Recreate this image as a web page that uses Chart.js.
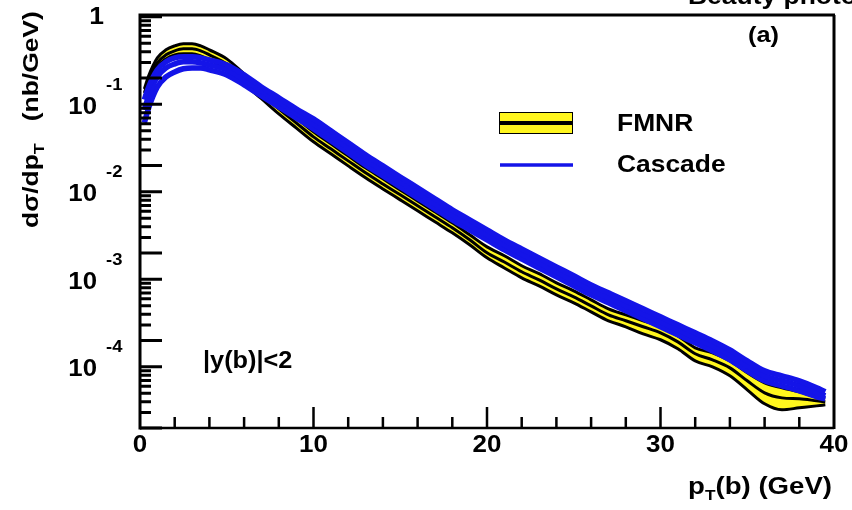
<!DOCTYPE html>
<html>
<head>
<meta charset="utf-8">
<script src="https://cdn.jsdelivr.net/npm/chart.js@4.4.0/dist/chart.umd.min.js"></script>
<style>
  body { margin: 0; background: #fff; }
  #myChart { display: block; background: #fff; }
</style>
</head>
<body>
<canvas id="myChart" width="852" height="510"></canvas>
<script>
// valores (pT en GeV, dsigma/dpT en nb/GeV)
const pT = [0.25, 0.5, 1, 1.5, 2, 2.5, 3, 3.5, 4, 5, 6, 7, 8, 9, 10, 11, 12, 13, 14, 15, 16, 17, 18, 19, 20,
  21, 22, 23, 24, 25, 26, 27, 28, 29, 30, 31, 32, 33, 34, 35, 36, 37, 38, 39, 39.5]

const fmnrCentral = [0.135, 0.191, 0.298, 0.368, 0.409, 0.431, 0.431, 0.409, 0.368, 0.290, 0.196, 0.132, 0.0888,
  0.0615, 0.0425, 0.0310, 0.0226, 0.0165, 0.0123, 0.00924, 0.00692, 0.00518, 0.00388, 0.00283, 0.00201,
  0.00158, 0.00122, 9.87e-4, 7.79e-4, 6.31e-4, 4.98e-4, 3.93e-4, 3.36e-4, 2.87e-4, 2.45e-4, 1.93e-4,
  1.41e-4, 1.20e-4, 9.74e-5, 6.92e-5, 5.05e-5, 4.42e-5, 4.31e-5, 4.09e-5, 3.98e-5]

const fmnrUpper = [0.150, 0.212, 0.340, 0.420, 0.466, 0.492, 0.492, 0.466, 0.420, 0.331, 0.223, 0.150, 0.101,
  0.0701, 0.0485, 0.0354, 0.0258, 0.0188, 0.0141, 0.0105, 0.00789, 0.00591, 0.00442, 0.00323, 0.00235,
  0.00186, 0.00143, 0.00116, 9.12e-4, 7.39e-4, 5.83e-4, 4.60e-4, 3.93e-4, 3.36e-4, 2.87e-4, 2.26e-4,
  1.65e-4, 1.45e-4, 1.17e-4, 8.54e-5, 6.57e-5, 5.76e-5, 5.18e-5, 4.54e-5, 4.42e-5]

const fmnrLower = [0.122, 0.171, 0.268, 0.331, 0.368, 0.378, 0.378, 0.358, 0.323, 0.255, 0.171, 0.116, 0.0779,
  0.0539, 0.0373, 0.0272, 0.0198, 0.0145, 0.0108, 0.0081, 0.00607, 0.00454, 0.0034, 0.00248, 0.00176,
  0.00135, 0.00104, 8.43e-4, 6.65e-4, 5.39e-4, 4.25e-4, 3.36e-4, 2.87e-4, 2.38e-4, 2.04e-4, 1.61e-4,
  1.17e-4, 1.0e-4, 7.89e-5, 5.46e-5, 3.78e-5, 3.23e-5, 3.40e-5, 3.58e-5, 3.68e-5]

const cascadeUpper = [0.113, 0.158, 0.248, 0.306, 0.340, 0.349, 0.349, 0.340, 0.323, 0.283, 0.217, 0.158, 0.119,
  0.0888, 0.0683, 0.0498, 0.0363, 0.0265, 0.0198, 0.0148, 0.0111, 0.00832, 0.00623, 0.00479, 0.00368,
  0.00283, 0.00223, 0.00176, 0.00139, 0.00110, 8.65e-4, 7.01e-4, 5.68e-4, 4.60e-4, 3.73e-4, 3.02e-4,
  2.45e-4, 1.98e-4, 1.56e-4, 1.17e-4, 9.0e-5, 7.89e-5, 6.92e-5, 5.76e-5, 5.18e-5]

const cascadeMid = [0.0865, 0.125, 0.206, 0.261, 0.290, 0.306, 0.306, 0.298, 0.283, 0.248, 0.191, 0.143, 0.107,
  0.080, 0.0599, 0.0436, 0.0318, 0.0232, 0.0174, 0.0130, 0.00974, 0.00729, 0.00546, 0.0042, 0.00323,
  0.00248, 0.00196, 0.00154, 0.00122, 9.61e-4, 7.59e-4, 6.15e-4, 4.98e-4, 4.03e-4, 3.27e-4, 2.65e-4,
  2.15e-4, 1.74e-4, 1.37e-4, 1.03e-4, 7.89e-5, 6.92e-5, 6.07e-5, 5.05e-5, 4.66e-5]

const cascadeLower = [0.0615, 0.0912, 0.158, 0.206, 0.235, 0.255, 0.261, 0.261, 0.248, 0.217, 0.167, 0.125, 0.0936,
  0.0701, 0.0525, 0.0383, 0.0279, 0.0203, 0.0152, 0.0114, 0.00854, 0.00639, 0.00479, 0.00368, 0.00283,
  0.00217, 0.00171, 0.00135, 0.00107, 8.43e-4, 6.65e-4, 5.39e-4, 4.37e-4, 3.54e-4, 2.87e-4, 2.32e-4,
  1.88e-4, 1.52e-4, 1.20e-4, 9.0e-5, 6.92e-5, 6.07e-5, 5.32e-5, 4.54e-5, 4.31e-5]

// etiquetas de los ejes
const xTickLabels = ["0", "10", "20", "30", "40"]
const xTickValues = [0, 10, 20, 30, 40]
const yTickValues = [1e-4, 1e-3, 1e-2, 1e-1]
const yTickExponents = ["-4", "-3", "-2", "-1"]
const legendNames = ["FMNR", "Cascade"]

const BLUE = "rgb(20,20,232)"
const YELLOW = "rgb(255,246,30)"
const FONT = '"Liberation Sans", Arial, Helvetica, sans-serif'

function toPoints (ys) {
  return pT.map((x, i) => ({ x: x, y: ys[i] }))
}

// texto con un poco de estiramiento horizontal como la fuente del original
function txt (ctx, s, x, y, size, align, base, sx) {
  ctx.save()
  ctx.font = "bold " + size + "px " + FONT
  ctx.textAlign = align || "left"
  ctx.textBaseline = base || "middle"
  ctx.translate(x, y)
  ctx.scale(sx || 1.15, 1)
  ctx.fillStyle = "#000"
  ctx.fillText(s, 0, 0)
  ctx.restore()
}
function txtWidth (ctx, s, size, sx) {
  ctx.save()
  ctx.font = "bold " + size + "px " + FONT
  const w = ctx.measureText(s).width * (sx || 1.15)
  ctx.restore()
  return w
}

const framePlugin = {
  id: "frame",
  afterDraw (chart) {
    const ctx = chart.ctx
    const a = chart.chartArea
    const xs = chart.scales.x
    const ys = chart.scales.y
    ctx.save()
    ctx.strokeStyle = "#000"
    ctx.lineCap = "butt"

    // marco
    ctx.lineWidth = 3
    ctx.beginPath()
    ctx.moveTo(a.left - 1.5, a.top); ctx.lineTo(a.right + 1, a.top)
    ctx.moveTo(a.right, a.top); ctx.lineTo(a.right, a.bottom + 1)
    ctx.moveTo(a.left, a.top); ctx.lineTo(a.left, a.bottom + 1.5)
    ctx.stroke()
    ctx.lineWidth = 2.5
    ctx.beginPath()
    ctx.moveTo(a.left, a.bottom); ctx.lineTo(a.right, a.bottom)
    ctx.stroke()

    // ticks eje x
    ctx.lineWidth = 2.5
    ctx.beginPath()
    for (let v = 2; v < 40; v += 2) {
      const px = xs.getPixelForValue(v)
      const len = v % 10 === 0 ? 21 : 11
      ctx.moveTo(px, a.bottom); ctx.lineTo(px, a.bottom - len)
    }
    ctx.stroke()

    // ticks eje y (log)
    ctx.lineWidth = 3
    ctx.beginPath()
    for (let e = -5; e <= 0; e++) {
      for (let m = 1; m <= 9; m++) {
        const v = m * Math.pow(10, e)
        if (v < ys.min || v > ys.max) continue
        const py = ys.getPixelForValue(v)
        const len = (m === 1 || m === 2) ? 22 : 11
        ctx.moveTo(a.left, py); ctx.lineTo(a.left + len, py)
      }
    }
    ctx.stroke()

    // etiquetas x
    xTickValues.forEach((v, i) => {
      txt(ctx, xTickLabels[i], xs.getPixelForValue(v), 445, 24, "center", "middle", 1.08)
    })

    // etiquetas y
    txt(ctx, "1", 104, ys.getPixelForValue(1) + 1, 23, "right", "middle", 1.15)
    yTickValues.forEach((v, i) => {
      const py = ys.getPixelForValue(v)
      txt(ctx, "10", 97, py + 3, 23, "right", "middle", 1.12)
      txt(ctx, yTickExponents[i], 106, py - 19, 16, "left", "middle", 1.15)
    })

    // titulo eje x: p_T(b) (GeV)
    const xs1 = txtWidth(ctx, "p", 24), xs2 = txtWidth(ctx, "T", 15), xs3 = txtWidth(ctx, "(b) (GeV)", 24)
    let x0 = 832 - (xs1 + xs2 + xs3)
    txt(ctx, "p", x0, 494, 24, "left", "alphabetic")
    txt(ctx, "T", x0 + xs1, 500, 15, "left", "alphabetic")
    txt(ctx, "(b) (GeV)", x0 + xs1 + xs2, 494, 24, "left", "alphabetic")

    // titulo eje y rotado
    ctx.save()
    ctx.translate(38, 228)
    ctx.rotate(-Math.PI / 2)
    const w1 = txtWidth(ctx, "d\u03c3/dp", 22, 1.2)
    const w2 = txtWidth(ctx, "T", 15, 1.2)
    txt(ctx, "d\u03c3/dp", 0, 0, 22, "left", "alphabetic", 1.2)
    txt(ctx, "T", w1, 6, 15, "left", "alphabetic", 1.2)
    txt(ctx, "(nb/GeV)", w1 + w2 + 22, 0, 22, "left", "alphabetic", 1.2)
    ctx.restore()

    // textos
    txt(ctx, "Beauty photoproduction", 688, 4, 23, "left", "alphabetic", 1.15)
    txt(ctx, "(a)", 748, 36, 22, "left", "middle", 1.15)
    txt(ctx, "|y(b)|<2", 203, 362, 23, "left", "middle", 1.1)

    // leyenda
    ctx.fillStyle = YELLOW
    ctx.fillRect(499, 112, 74, 22)
    ctx.lineWidth = 1
    ctx.strokeRect(499.5, 112.5, 73, 21)
    ctx.lineWidth = 4
    ctx.beginPath(); ctx.moveTo(499, 123); ctx.lineTo(573, 123); ctx.stroke()
    ctx.strokeStyle = BLUE
    ctx.lineWidth = 3.5
    ctx.beginPath(); ctx.moveTo(500, 165); ctx.lineTo(573, 165); ctx.stroke()
    txt(ctx, legendNames[0], 617, 124, 24, "left", "middle", 1.1)
    txt(ctx, legendNames[1], 617, 165, 24, "left", "middle", 1.1)

    ctx.restore()
  }
}

function renderGrafica () {
  const blueLine = (ys) => ({ data: toPoints(ys), borderColor: BLUE, borderWidth: 5.5, fill: false })
  const datasets = [
    blueLine(cascadeUpper),
    blueLine(cascadeMid),
    blueLine(cascadeLower),
    { data: toPoints(fmnrCentral), borderColor: "#000", borderWidth: 3, fill: false },
    { data: toPoints(fmnrUpper), borderColor: "#000", borderWidth: 3, backgroundColor: YELLOW, fill: "+1" },
    { data: toPoints(fmnrLower), borderColor: "#000", borderWidth: 3, fill: false }
  ]
  const config = {
    type: "line",
    data: { datasets },
    options: {
      responsive: false,
      animation: false,
      layout: { padding: { top: 15, right: 18, left: 0, bottom: 0 } },
      elements: { point: { radius: 0 }, line: { cubicInterpolationMode: "monotone" } },
      plugins: {
        legend: { display: false },
        tooltip: { enabled: false },
        filler: { drawTime: "beforeDatasetsDraw" }
      },
      scales: {
        x: {
          type: "linear", min: 0, max: 40,
          grid: { display: false }, border: { display: false }, ticks: { display: false },
          afterFit: (s) => { s.height = 82 }
        },
        y: {
          type: "logarithmic", min: 2e-5, max: 1.05,
          grid: { display: false }, border: { display: false }, ticks: { display: false },
          afterFit: (s) => { s.width = 140 }
        }
      }
    },
    plugins: [framePlugin]
  }
  const myChart = document.getElementById("myChart")
  new Chart(myChart, config)
}
renderGrafica()
</script>
</body>
</html>
